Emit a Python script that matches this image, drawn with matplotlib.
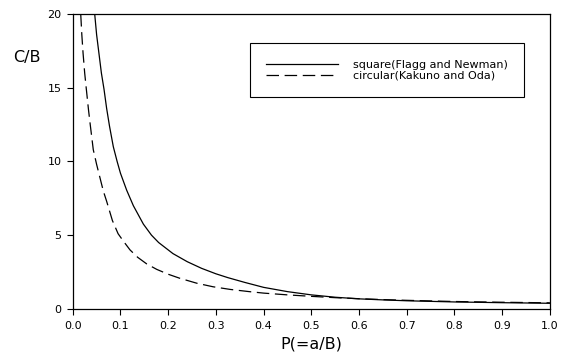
import matplotlib
matplotlib.use("Agg")
import matplotlib.pyplot as plt

plt.rcParams['font.family'] = ['DejaVu Sans']

# square foundation (Flagg and Newman)
p_square = [0.046, 0.050, 0.055, 0.060, 0.0655, 0.071, 0.077, 0.085, 0.093, 0.100,
            0.113, 0.127, 0.148, 0.165, 0.18, 0.21, 0.24, 0.27, 0.30, 0.325,
            0.36, 0.40, 0.45, 0.50, 0.55, 0.60, 0.65, 0.70, 0.80, 0.90, 1.00]
c_square = [20.0, 18.6, 17.3, 16.0, 14.9, 13.6, 12.4, 11.0, 10.0, 9.2,
            8.05, 7.0, 5.75, 5.0, 4.5, 3.75, 3.2, 2.75, 2.38, 2.12,
            1.8, 1.46, 1.17, 0.95, 0.79, 0.68, 0.61, 0.55, 0.47, 0.42, 0.38]

# circular foundation (Kakuno and Oda)
p_circ = [0.0167, 0.019, 0.0216, 0.025, 0.0286, 0.033, 0.037, 0.043, 0.050, 0.057,
          0.064, 0.071, 0.083, 0.095, 0.106, 0.12, 0.136, 0.155, 0.176, 0.20,
          0.224, 0.26, 0.294, 0.33, 0.37, 0.40, 0.45, 0.50, 0.55, 0.60,
          0.65, 0.70, 0.80, 0.90, 1.00]
c_circ = [20.0, 18.6, 17.35, 16.0, 14.86, 13.5, 12.4, 10.8, 9.8, 8.9,
          8.0, 7.3, 6.0, 5.1, 4.6, 4.0, 3.5, 3.05, 2.68, 2.35,
          2.08, 1.74, 1.50, 1.32, 1.17, 1.07, 0.95, 0.85, 0.76, 0.69,
          0.63, 0.58, 0.50, 0.45, 0.41]

x_ticks = [0.0, 0.1, 0.2, 0.3, 0.4, 0.5, 0.6, 0.7, 0.8, 0.9, 1.0]
y_ticks = [0, 5, 10, 15, 20]

fig = plt.figure(figsize=(5.64, 3.6), dpi=100, facecolor='w')
ax = fig.add_axes([0.129, 0.142, 0.846, 0.819])

ax.plot(p_square, c_square, color='k', lw=0.9, label='square(Flagg and Newman)')
ax.plot(p_circ, c_circ, color='k', lw=0.9, dashes=(10, 4.5),
        label='circular(Kakuno and Oda)')

ax.set_xlim(0, 1.0)
ax.set_ylim(0, 20)
ax.set_xticks(x_ticks)
ax.set_xticklabels(['%.1f' % v for v in x_ticks])
ax.set_yticks(y_ticks)
ax.tick_params(direction='out', length=4, width=0.8, labelsize=8, colors='k')
ax.tick_params(axis='x', pad=5)
ax.tick_params(axis='y', pad=4)
for s in ax.spines.values():
    s.set_linewidth(0.9)

ax.set_xlabel('P(=a/B)', fontsize=11.5, labelpad=4)
fig.text(0.023, 0.841, 'C/B', fontsize=11.5, ha='left', va='center')

leg = ax.legend(loc='upper left', bbox_to_anchor=(0.371, 0.902), fontsize=8,
                handlelength=6.4, handletextpad=1.35, labelspacing=0.1,
                borderpad=1.5, borderaxespad=0, fancybox=False,
                edgecolor='k', framealpha=1)
leg.get_frame().set_linewidth(0.8)

plt.savefig('out.png', dpi=100)
